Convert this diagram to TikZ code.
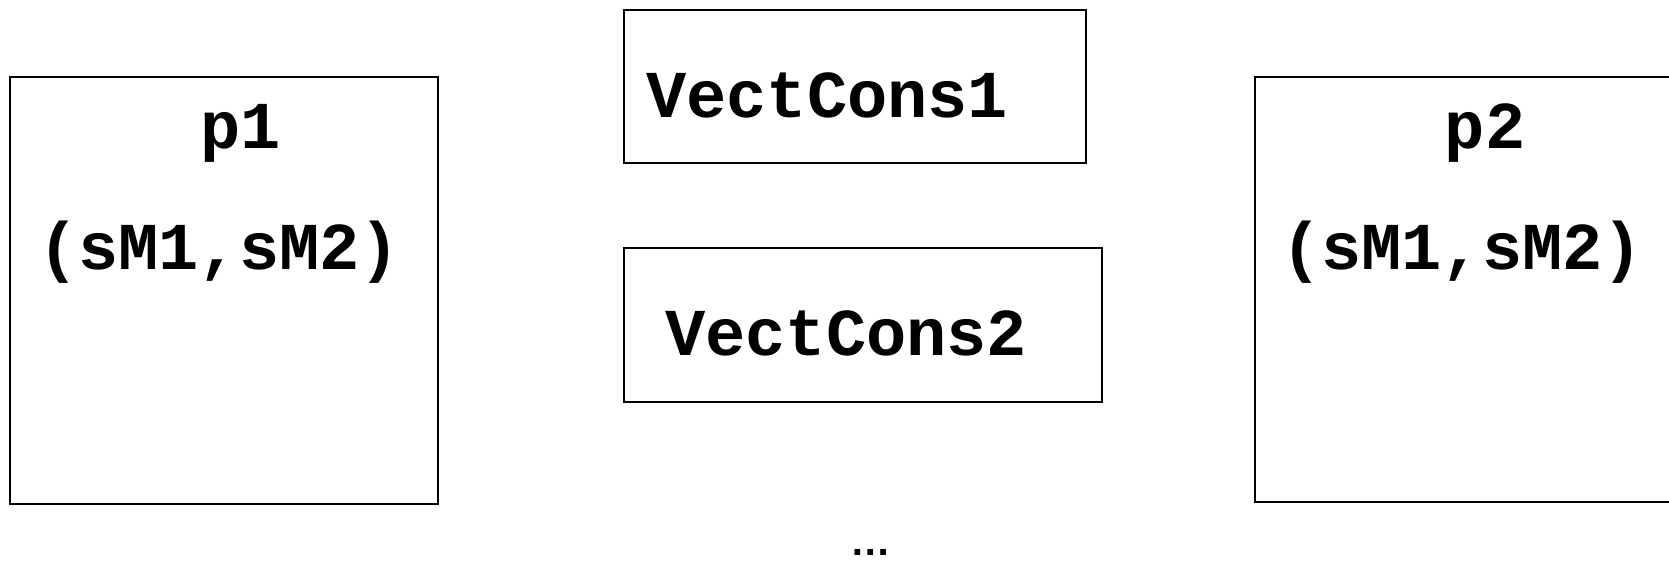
\documentclass[tikz,border=0pt]{standalone}
\usepackage{fontspec}
\setmonofont{Liberation Mono}
\newfontfamily\dotsfont{Liberation Sans}
\begin{document}
\begin{tikzpicture}[x=1pt,y=-1pt,
  boxstyle/.style={draw=black, line width=2.5pt, rectangle, inner sep=0pt},
  codetext/.style={inner sep=0pt, anchor=base, font=\fontsize{67}{80}\selectfont\ttfamily\bfseries},
  codetextw/.style={inner sep=0pt, anchor=base west, font=\fontsize{67}{80}\selectfont\ttfamily\bfseries}]
\useasboundingbox (0,0) rectangle (1669,563);
\clip (0,0) rectangle (1669,563);
% boxes
\node[boxstyle, minimum width=428pt, minimum height=427pt] (p1box) at (224,290.5) {};
\node[boxstyle, minimum width=460pt, minimum height=425pt] (p2box) at (1485,289.5) {};
\node[boxstyle, minimum width=462pt, minimum height=153pt] (vc1box) at (855,86.5) {};
\node[boxstyle, minimum width=478pt, minimum height=154pt] (vc2box) at (863,325) {};
% texts
\node[codetext] (p1) at (241,148) {p1};
\node[codetext] (p1args) at (219,269) {(sM1,sM2)};
\node[codetext] (p2) at (1485,148) {p2};
\node[codetext] (p2args) at (1462,269) {(sM1,sM2)};
\node[codetextw] (vc1) at (646,117) {VectCons1};
\node[codetextw] (vc2) at (665,355) {VectCons2};
\node[inner sep=0pt, anchor=base, text depth=0pt, font=\fontsize{40.5}{48}\selectfont\dotsfont\bfseries] (dots) at (871,555) {…};
\end{tikzpicture}
\end{document}
